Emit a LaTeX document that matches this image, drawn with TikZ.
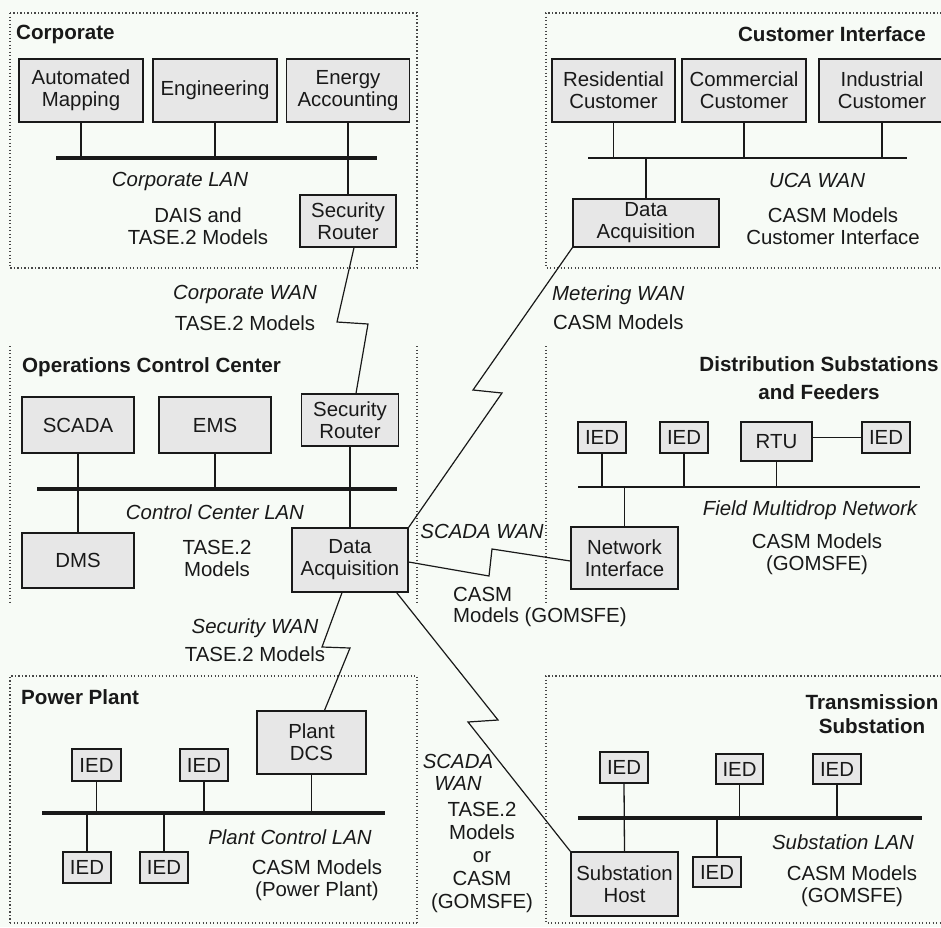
\documentclass[tikz,border=0pt]{standalone}
\usepackage{fontspec}
\setmainfont{Liberation Sans}
\definecolor{bgc}{RGB}{247,251,246}
\definecolor{boxfill}{RGB}{231,231,231}
\definecolor{inkc}{RGB}{25,25,25}
\newcommand\bodyfont{\fontsize{20.4}{22}\selectfont}
\newcommand\titlefont{\fontsize{20.6}{24}\selectfont\bfseries}
\tikzset{
  box/.style={draw=inkc, fill=boxfill, line width=1.3pt, inner sep=0pt, align=center,
              text=inkc, font=\bodyfont},
  lbl/.style={inner sep=0pt, align=center, text=inkc, font=\bodyfont},
  netname/.style={lbl, font=\bodyfont\itshape},
  ttl/.style={inner sep=0pt, align=center, text=inkc, font=\titlefont},
  wire/.style={draw=inkc, line width=1.3pt},
  lanbar/.style={draw=inkc, line width=4.5pt},
  thinbar/.style={draw=inkc, line width=1.5pt},
  wan/.style={draw=inkc, line width=1.2pt, line join=miter},
  zone/.style={draw=inkc!80, line width=1.3pt, dash pattern=on 1.3pt off 2.2pt}
}
\begin{document}
\begin{tikzpicture}[x=1pt, y=-1pt]
\useasboundingbox (0,0) rectangle (941,927);
\fill[bgc] (0,0) rectangle (941,927);
\clip (0,0) rectangle (941,927);

% ---------- zone outlines ----------
\draw[zone] (10,13) rectangle (417,268);
\draw[zone] (945,13) -- (546,13) -- (546,268) -- (945,268);
\draw[zone] (10,346) -- (10,602);
\draw[zone] (417,346) -- (417,602);
\draw[zone] (546,346) -- (546,602);
\draw[zone] (10,923) -- (10,676) -- (417,676) -- (417,923);
\draw[zone] (10,923) -- (417,923);
\draw[zone] (945,676) -- (546,676) -- (546,923) -- (945,923);

% ---------- Corporate ----------
\node[ttl, anchor=west] (tcorp) at (16,34) {Corporate};
\node[box, minimum width=124pt, minimum height=63pt] (am) at (81,90.5) {Automated\\Mapping};
\node[box, minimum width=124pt, minimum height=63pt] (eng) at (215,90.5) {Engineering};
\node[box, minimum width=123pt, minimum height=63pt] (ea) at (348,90.5) {Energy\\Accounting};
\node[box, minimum width=96pt, minimum height=52pt] (sr1) at (348,221) {Security\\Router};
\coordinate (cbarL) at (56,158);
\coordinate (cbarR) at (377,158);
\draw[lanbar] (cbarL) -- (cbarR);
\draw[wire] (am.south) -- (am.south |- cbarL);
\draw[wire] (eng.south) -- (eng.south |- cbarL);
\draw[wire] (ea.south) -- (sr1.north);
\node[netname] (ncorp) at (180,181) {Corporate LAN};
\node[lbl] (mcorp) at (198,226) {DAIS and\\TASE.2 Models};

% ---------- Customer Interface ----------
\node[ttl, anchor=east] (tcust) at (926,34) {Customer Interface};
\node[box, minimum width=123pt, minimum height=63pt] (rc) at (613.5,90.5) {Residential\\Customer};
\node[box, minimum width=124pt, minimum height=63pt] (cc) at (744,90.5) {Commercial\\Customer};
\node[box, minimum width=126pt, minimum height=63pt] (ic) at (882,90.5) {Industrial\\Customer};
\node[box, minimum width=146pt, minimum height=48pt] (da1) at (646,223) {Data\\Acquisition};
\coordinate (ubarL) at (588,158);
\coordinate (ubarR) at (907,158);
\draw[thinbar] (ubarL) -- (ubarR);
\draw[wire] (rc.south) -- (rc.south |- ubarL);
\draw[wire] (cc.south) -- (cc.south |- ubarL);
\draw[wire] (ic.south) -- (ic.south |- ubarL);
\draw[wire] (da1.north) -- (da1.north |- ubarL);
\node[netname] (nuca) at (817,180) {UCA WAN};
\node[lbl] (mcust) at (833,226) {CASM Models\\Customer Interface};

% ---------- Operations Control Center ----------
\node[ttl, anchor=west] (tops) at (22,367) {Operations Control Center};
\node[box, minimum width=112pt, minimum height=56pt] (scada) at (78,425) {SCADA};
\node[box, minimum width=112pt, minimum height=56pt] (ems) at (215,425) {EMS};
\node[box, minimum width=97pt, minimum height=52pt] (sr2) at (350,420) {Security\\Router};
\node[box, minimum width=112pt, minimum height=55pt] (dms) at (78,560.5) {DMS};
\node[box, minimum width=116pt, minimum height=64pt] (da2) at (350,560) {Data\\Acquisition};
\coordinate (obarL) at (37,489);
\coordinate (obarR) at (397,489);
\draw[lanbar] (obarL) -- (obarR);
\draw[wire] (scada.south) -- (dms.north);
\draw[wire] (ems.south) -- (ems.south |- obarL);
\draw[wire] (sr2.south) -- (da2.north);
\node[netname] (nops) at (215,512) {Control Center LAN};
\node[lbl] (mops) at (217,558.5) {TASE.2\\Models};

% ---------- Distribution Substations and Feeders ----------
\node[ttl, font=\fontsize{20.6}{28}\selectfont\bfseries] (tdist) at (819,378) {Distribution Substations\\and Feeders};
\node[box, minimum width=48pt, minimum height=31pt] (d1) at (602,437.5) {IED};
\node[box, minimum width=48pt, minimum height=31pt] (d2) at (684,437.5) {IED};
\node[box, minimum width=71pt, minimum height=39pt] (rtu) at (776.5,441.5) {RTU};
\node[box, minimum width=48pt, minimum height=31pt] (d3) at (886,437.5) {IED};
\node[box, minimum width=107pt, minimum height=62pt] (ni) at (624.5,558) {Network\\Interface};
\coordinate (fbarL) at (578,487);
\coordinate (fbarR) at (920,487);
\draw[thinbar] (fbarL) -- (fbarR);
\draw[wire] (d1.south) -- (d1.south |- fbarL);
\draw[wire] (d2.south) -- (d2.south |- fbarL);
\draw[wire] (rtu.south) -- (rtu.south |- fbarL);
\draw[wire] (d3.west -| rtu.east) -- (d3.west);
\draw[wire] (ni.north) -- (ni.north |- fbarL);
\node[netname] (ndist) at (810,510) {Field Multidrop Network};
\node[lbl] (mdist) at (817,554) {CASM Models\\(GOMSFE)};

% ---------- Power Plant ----------
\node[ttl, anchor=west] (tpp) at (21,697) {Power Plant};
\node[box, minimum width=109pt, minimum height=63pt] (dcs) at (311.5,742.5) {Plant\\DCS};
\node[box, minimum width=49pt, minimum height=32pt] (pa) at (96.5,765) {IED};
\node[box, minimum width=48pt, minimum height=32pt] (pb) at (204,765) {IED};
\node[box, minimum width=48pt, minimum height=31pt] (pc) at (87,867.5) {IED};
\node[box, minimum width=48pt, minimum height=31pt] (pd) at (164,867.5) {IED};
\coordinate (pbarL) at (42,813);
\coordinate (pbarR) at (385,813);
\draw[lanbar] (pbarL) -- (pbarR);
\draw[wire] (pa.south) -- (pa.south |- pbarL);
\draw[wire] (pb.south) -- (pb.south |- pbarL);
\draw[wire] (dcs.south) -- (dcs.south |- pbarL);
\draw[wire] (pc.north) -- (pc.north |- pbarL);
\draw[wire] (pd.north) -- (pd.north |- pbarL);
\node[netname] (npp) at (290,837) {Plant Control LAN};
\node[lbl] (mpp) at (317,880.5) {CASM Models\\(Power Plant)};

% ---------- Transmission Substation ----------
\node[ttl] (ttr) at (872,714) {Transmission\\Substation};
\node[box, minimum width=48pt, minimum height=31pt] (t1) at (624,767.5) {IED};
\node[box, minimum width=47pt, minimum height=30pt] (t2) at (739.5,769) {IED};
\node[box, minimum width=48pt, minimum height=30pt] (t3) at (837,769) {IED};
\node[box, minimum width=107pt, minimum height=64pt] (sh) at (624.5,884) {Substation\\Host};
\node[box, minimum width=48pt, minimum height=30pt] (t4) at (717,872) {IED};
\coordinate (tbarL) at (578,818);
\coordinate (tbarR) at (922,818);
\draw[lanbar] (tbarL) -- (tbarR);
\draw[wire] (t1.south) -- (sh.north);
\draw[wire] (t2.south) -- (t2.south |- tbarL);
\draw[wire] (t3.south) -- (t3.south |- tbarL);
\draw[wire] (t4.north) -- (t4.north |- tbarL);
\node[netname] (ntr) at (843,842) {Substation LAN};
\node[lbl] (mtr) at (852,886.5) {CASM Models\\(GOMSFE)};

% ---------- wide-area links ----------
% Corporate WAN
\draw[wan] ([xshift=6pt]sr1.south) -- (337,322) -- (368,324) -- ([xshift=6pt]sr2.north);
\node[netname] (ncwan) at (245,294) {Corporate WAN};
\node[lbl] (mcwan) at (245,323) {TASE.2 Models};

% Metering WAN
\draw[wan] (da2.north east) -- (502,393) -- (473,390) -- (da1.south west);
\node[netname, anchor=west] (nmwan) at (552,295) {Metering WAN};
\node[lbl, anchor=west] (mmwan) at (553,322) {CASM Models};

% SCADA WAN to the feeders
\draw[wan] ([yshift=-2pt]da2.east) -- (489,576) -- (492,549) -- ([yshift=-3pt]ni.west);
\node[netname] (nswan) at (482,531) {SCADA WAN};
\node[lbl, anchor=west] (mswan1) at (453,594) {CASM};
\node[lbl, anchor=west] (mswan2) at (453,617) {Models (GOMSFE)};

% Security WAN
\draw[wan] ([xshift=-8pt]da2.south) -- (322,647) -- (350,648) -- ([xshift=13pt]dcs.north);
\node[netname] (nsecwan) at (255,628) {Security WAN};
\node[lbl] (msecwan) at (255,654) {TASE.2 Models};

% SCADA WAN to the transmission substation
\draw[wan] ([xshift=-12pt]da2.south east) -- (498,720) -- (468,722) -- (sh.north west);
\node[netname] (nstwan) at (458,772) {SCADA\\WAN};
\node[lbl, font=\fontsize{20.4}{23}\selectfont] (mstwan) at (482,857) {TASE.2\\Models\\or\\CASM\\(GOMSFE)};
\end{tikzpicture}
\end{document}
